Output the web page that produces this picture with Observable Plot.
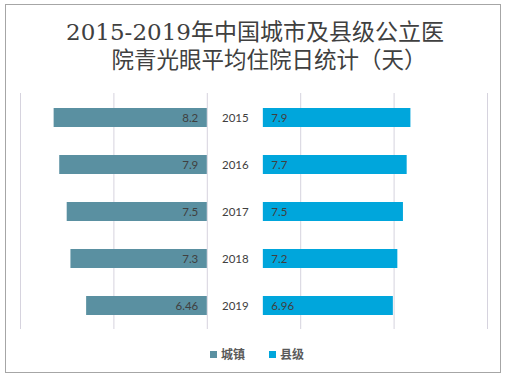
<!DOCTYPE html>
<html>
<head>
<meta charset="utf-8">
<script src="https://cdn.jsdelivr.net/npm/d3@7"></script>
<script src="https://cdn.jsdelivr.net/npm/@observablehq/plot@0.6"></script>
<style>
  html, body { margin: 0; padding: 0; background: #fff; }
  #wrap { position: relative; width: 506px; height: 379px; overflow: hidden; background: #fff; }
  #frame { position: absolute; left: 5px; top: 4px; width: 496px; height: 369px; box-sizing: border-box; border: 1px solid #a6a6a6; }
  .tl { position: absolute; width: 506px; text-align: center; font-family: "DejaVu Serif", "Noto Sans CJK SC", serif; font-size: 23px; line-height: 28px; color: #404040; white-space: nowrap; }
  #chart { position: absolute; left: 0; top: 86px; }
  #legend { position: absolute; left: 0; top: 346px; width: 506px; height: 16px; font-family: "Noto Sans CJK SC", sans-serif; font-size: 12px; font-weight: bold; color: #595959; }
  .li { position: absolute; top: 0; line-height: 16px; }
  .sw { position: absolute; width: 7px; height: 7px; top: 5px; }
</style>
</head>
<body>
<div id="wrap">
  <div id="frame"></div>
  <div class="tl" style="top:18px; left:2px">2015-2019年中国城市及县级公立医</div>
  <div class="tl" style="top:46px; left:16px; font-size:22.5px">院青光眼平均住院日统计（天）</div>
  <div id="chart"></div>
  <div id="legend"></div>
</div>
<script>
const years = ["2015", "2016", "2017", "2018", "2019"];
const urbanValues = [8.2, 7.9, 7.5, 7.3, 6.46];
const countyValues = [7.9, 7.7, 7.5, 7.2, 6.96];
const urbanLabels = ["8.2", "7.9", "7.5", "7.3", "6.46"];
const countyLabels = ["7.9", "7.7", "7.5", "7.2", "6.96"];
const seriesNames = ["城镇", "县级"];
const seriesColors = ["#5a90a1", "#00a6dc"];
const gridTicks = [-10, -5, 0, 5, 10, 15];

const gap = 3; // gap (in data units) between the two halves where year labels sit

const urban = years.map((y, i) => ({year: y, v: urbanValues[i], label: urbanLabels[i]}));
const county = years.map((y, i) => ({year: y, v: countyValues[i], label: countyLabels[i]}));

const font = "Lato, 'Open Sans', sans-serif";

const plot = Plot.plot({
  width: 506,
  height: 250,
  marginLeft: 20,
  marginRight: 19,
  marginTop: 7,
  marginBottom: 7,
  style: {fontFamily: font, fontSize: "11px", background: "transparent"},
  x: {domain: [-10, 15], axis: null},
  y: {domain: years, axis: null, paddingInner: 0.6, paddingOuter: 0.3},
  marks: [
    Plot.ruleX(gridTicks, {stroke: "#d6d3de", strokeWidth: 1}),
    Plot.barX(urban, {y: "year", x1: d => -d.v, x2: 0, fill: seriesColors[0]}),
    Plot.barX(county, {y: "year", x1: gap, x2: d => gap + d.v, fill: seriesColors[1]}),
    Plot.text(urban, {y: "year", x: 0, dx: -9, text: "label", textAnchor: "end", fill: "#404040", fontSize: 11.5}),
    Plot.text(county, {y: "year", x: gap, dx: 8, text: "label", textAnchor: "start", fill: "#404040", fontSize: 11.5}),
    Plot.text(years, {y: d => d, x: gap / 2, text: d => d, textAnchor: "middle", fill: "#404040", fontSize: 11.5})
  ]
});
document.getElementById("chart").appendChild(plot);

// legend
const legend = document.getElementById("legend");
const lx = [210, 269];
seriesNames.forEach((name, i) => {
  const sw = document.createElement("div");
  sw.className = "sw";
  sw.style.left = lx[i] + "px";
  sw.style.background = seriesColors[i];
  legend.appendChild(sw);
  const t = document.createElement("div");
  t.className = "li";
  t.style.left = (lx[i] + 11) + "px";
  t.textContent = name;
  legend.appendChild(t);
});
</script>
</body>
</html>
